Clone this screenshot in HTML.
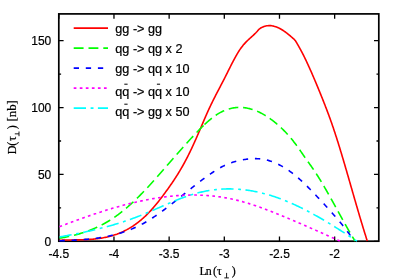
<!DOCTYPE html>
<html><head><meta charset="utf-8"><title>plot</title>
<style>
html,body{margin:0;padding:0;background:#fff;}
body{width:400px;height:279px;overflow:hidden;}
svg{display:block;will-change:transform;}
text{font-family:"Liberation Sans",sans-serif;font-size:12px;fill:#000;stroke:#000;stroke-width:0.2px;}
.s{font-family:"Liberation Serif",serif;font-size:12px;}
</style></head><body>
<svg width="400" height="279" viewBox="0 0 400 279">
<rect x="0" y="0" width="400" height="279" fill="#fff"/>

<rect x="58.8" y="13.9" width="320.0" height="227.29999999999998" fill="none" stroke="#000" stroke-width="1.7"/>
<path d="M58.80,241.2 v-4.8 M58.80,13.9 v4.8 M113.97,241.2 v-4.8 M113.97,13.9 v4.8 M169.14,241.2 v-4.8 M169.14,13.9 v4.8 M224.31,241.2 v-4.8 M224.31,13.9 v4.8 M279.48,241.2 v-4.8 M279.48,13.9 v4.8 M334.65,241.2 v-4.8 M334.65,13.9 v4.8 M58.8,241.30 h4.8 M378.8,241.30 h-4.8 M58.8,174.44 h4.8 M378.8,174.44 h-4.8 M58.8,107.57 h4.8 M378.8,107.57 h-4.8 M58.8,40.71 h4.8 M378.8,40.71 h-4.8 M58.8,207.87 h2.3 M378.8,207.87 h-2.3 M58.8,141.00 h2.3 M378.8,141.00 h-2.3 M58.8,74.14 h2.3 M378.8,74.14 h-2.3" stroke="#000" stroke-width="1.3" fill="none"/>
<clipPath id="c"><rect x="58.8" y="13.9" width="320.0" height="228.2"/></clipPath>
<g clip-path="url(#c)" fill="none" stroke-linejoin="round">
<path d="M59.50,240.25 L60.50,240.21 L61.50,240.18 L62.50,240.14 L63.50,240.11 L64.50,240.09 L65.50,240.06 L66.50,240.04 L67.50,240.02 L68.50,240.01 L69.50,239.99 L70.50,239.98 L71.50,239.96 L72.50,239.95 L73.50,239.93 L74.50,239.92 L75.50,239.90 L76.50,239.89 L77.50,239.87 L78.50,239.85 L79.49,239.83 L80.49,239.80 L81.49,239.77 L82.49,239.74 L83.49,239.71 L84.49,239.67 L85.49,239.63 L86.49,239.58 L87.49,239.53 L88.49,239.47 L89.49,239.41 L90.48,239.34 L91.48,239.27 L92.48,239.19 L93.47,239.10 L94.47,239.00 L95.46,238.90 L96.46,238.79 L97.45,238.66 L98.44,238.54 L99.43,238.40 L100.42,238.25 L101.41,238.10 L102.39,237.93 L103.38,237.76 L104.36,237.57 L105.34,237.37 L106.32,237.17 L107.30,236.95 L108.27,236.72 L109.24,236.48 L110.21,236.23 L111.17,235.97 L112.13,235.69 L113.09,235.40 L114.05,235.10 L115.00,234.79 L115.94,234.47 L116.89,234.14 L117.82,233.79 L118.76,233.43 L119.69,233.06 L120.61,232.67 L121.53,232.28 L122.44,231.87 L123.35,231.45 L124.25,231.01 L125.14,230.57 L126.03,230.11 L126.92,229.65 L127.80,229.17 L128.67,228.68 L129.53,228.17 L130.39,227.66 L131.24,227.14 L132.09,226.60 L132.92,226.06 L133.76,225.50 L134.58,224.94 L135.40,224.36 L136.21,223.77 L137.01,223.18 L137.81,222.57 L138.60,221.96 L139.38,221.34 L140.16,220.71 L140.93,220.07 L141.69,219.42 L142.44,218.77 L143.19,218.10 L143.93,217.43 L144.67,216.75 L145.39,216.07 L146.12,215.37 L146.83,214.67 L147.54,213.97 L148.24,213.25 L148.93,212.53 L149.62,211.81 L150.30,211.08 L150.98,210.34 L151.65,209.60 L152.31,208.85 L152.97,208.10 L153.63,207.34 L154.28,206.58 L154.92,205.82 L155.56,205.05 L156.20,204.28 L156.83,203.50 L157.46,202.72 L158.08,201.94 L158.70,201.16 L159.32,200.37 L159.94,199.58 L160.55,198.79 L161.16,198.00 L161.76,197.20 L162.37,196.41 L162.97,195.61 L163.57,194.81 L164.16,194.00 L164.76,193.20 L165.35,192.39 L165.94,191.59 L166.53,190.78 L167.11,189.97 L167.70,189.16 L168.28,188.34 L168.86,187.53 L169.44,186.71 L170.01,185.89 L170.58,185.07 L171.15,184.25 L171.72,183.43 L172.28,182.60 L172.84,181.77 L173.40,180.94 L173.96,180.11 L174.51,179.28 L175.05,178.44 L175.60,177.60 L176.14,176.76 L176.68,175.92 L177.21,175.07 L177.74,174.22 L178.27,173.37 L178.79,172.52 L179.31,171.66 L179.82,170.81 L180.33,169.95 L180.84,169.09 L181.35,168.22 L181.85,167.36 L182.34,166.49 L182.84,165.62 L183.33,164.75 L183.81,163.87 L184.29,163.00 L184.77,162.12 L185.24,161.24 L185.71,160.35 L186.18,159.47 L186.64,158.58 L187.10,157.69 L187.55,156.80 L188.01,155.91 L188.45,155.02 L188.90,154.12 L189.34,153.22 L189.78,152.33 L190.21,151.43 L190.65,150.52 L191.08,149.62 L191.50,148.72 L191.93,147.81 L192.35,146.91 L192.77,146.00 L193.19,145.09 L193.61,144.18 L194.02,143.27 L194.43,142.36 L194.84,141.45 L195.25,140.53 L195.66,139.62 L196.07,138.71 L196.47,137.79 L196.87,136.88 L197.27,135.96 L197.67,135.04 L198.07,134.13 L198.47,133.21 L198.87,132.29 L199.26,131.37 L199.66,130.45 L200.05,129.54 L200.44,128.62 L200.83,127.70 L201.22,126.77 L201.62,125.85 L202.01,124.93 L202.40,124.01 L202.79,123.09 L203.18,122.17 L203.57,121.25 L203.96,120.33 L204.36,119.41 L204.75,118.50 L205.15,117.58 L205.55,116.66 L205.94,115.74 L206.35,114.83 L206.75,113.91 L207.15,113.00 L207.56,112.08 L207.98,111.17 L208.39,110.26 L208.81,109.35 L209.23,108.45 L209.65,107.54 L210.08,106.64 L210.51,105.73 L210.94,104.83 L211.37,103.93 L211.81,103.03 L212.25,102.13 L212.70,101.24 L213.14,100.34 L213.59,99.45 L214.04,98.56 L214.49,97.66 L214.95,96.77 L215.40,95.88 L215.86,94.99 L216.32,94.11 L216.78,93.22 L217.24,92.33 L217.70,91.44 L218.17,90.56 L218.63,89.67 L219.09,88.79 L219.56,87.90 L220.02,87.01 L220.48,86.13 L220.95,85.24 L221.41,84.36 L221.87,83.47 L222.33,82.58 L222.79,81.69 L223.25,80.80 L223.71,79.92 L224.17,79.03 L224.62,78.13 L225.07,77.24 L225.52,76.35 L225.97,75.46 L226.42,74.56 L226.87,73.67 L227.32,72.77 L227.76,71.88 L228.21,70.98 L228.65,70.09 L229.10,69.19 L229.55,68.30 L230.00,67.41 L230.45,66.51 L230.90,65.62 L231.35,64.73 L231.80,63.84 L232.26,62.95 L232.72,62.06 L233.18,61.17 L233.65,60.29 L234.12,59.41 L234.59,58.53 L235.07,57.65 L235.55,56.77 L236.04,55.90 L236.54,55.03 L237.04,54.17 L237.55,53.31 L238.07,52.45 L238.59,51.60 L239.13,50.75 L239.68,49.92 L240.24,49.09 L240.81,48.27 L241.40,47.46 L242.00,46.66 L242.62,45.88 L243.25,45.10 L243.90,44.34 L244.57,43.60 L245.24,42.86 L245.94,42.14 L246.64,41.43 L247.35,40.73 L248.08,40.04 L248.81,39.36 L249.55,38.68 L250.29,38.01 L251.03,37.34 L251.77,36.67 L252.51,36.00 L253.25,35.32 L253.98,34.64 L254.71,33.95 L255.42,33.25 L256.13,32.55 L256.82,31.82 L257.47,31.07 L258.11,30.29 L258.76,29.53 L259.49,28.85 L260.30,28.28 L261.18,27.79 L262.07,27.34 L262.98,26.93 L263.91,26.56 L264.86,26.25 L265.83,26.00 L266.81,25.81 L267.80,25.68 L268.80,25.62 L269.80,25.61 L270.80,25.66 L271.79,25.77 L272.78,25.94 L273.76,26.15 L274.72,26.41 L275.67,26.72 L276.61,27.06 L277.54,27.44 L278.45,27.85 L279.35,28.29 L280.23,28.76 L281.11,29.25 L281.96,29.76 L282.81,30.29 L283.65,30.84 L284.47,31.40 L285.29,31.98 L286.09,32.58 L286.89,33.18 L287.67,33.80 L288.45,34.43 L289.23,35.06 L289.99,35.71 L290.75,36.36 L291.50,37.01 L292.25,37.68 L293.01,38.33 L293.78,38.96 L294.51,39.65 L295.16,40.41 L295.73,41.23 L296.25,42.08 L296.75,42.95 L297.25,43.81 L297.76,44.68 L298.26,45.54 L298.76,46.41 L299.25,47.28 L299.74,48.15 L300.22,49.03 L300.70,49.91 L301.17,50.79 L301.64,51.67 L302.10,52.56 L302.56,53.45 L303.01,54.34 L303.46,55.23 L303.91,56.13 L304.35,57.02 L304.79,57.92 L305.23,58.82 L305.67,59.72 L306.10,60.62 L306.53,61.53 L306.95,62.43 L307.37,63.34 L307.80,64.24 L308.21,65.15 L308.63,66.06 L309.04,66.97 L309.46,67.88 L309.87,68.80 L310.27,69.71 L310.68,70.62 L311.08,71.54 L311.49,72.45 L311.89,73.37 L312.28,74.29 L312.68,75.20 L313.08,76.12 L313.47,77.04 L313.87,77.96 L314.26,78.88 L314.65,79.80 L315.04,80.72 L315.43,81.64 L315.81,82.57 L316.20,83.49 L316.59,84.41 L316.97,85.33 L317.35,86.26 L317.74,87.18 L318.12,88.11 L318.50,89.03 L318.88,89.95 L319.26,90.88 L319.64,91.81 L320.02,92.73 L320.39,93.66 L320.77,94.58 L321.14,95.51 L321.52,96.44 L321.89,97.37 L322.27,98.29 L322.64,99.22 L323.01,100.15 L323.38,101.08 L323.74,102.01 L324.11,102.94 L324.48,103.87 L324.84,104.80 L325.20,105.73 L325.56,106.67 L325.92,107.60 L326.28,108.53 L326.64,109.47 L326.99,110.40 L327.35,111.34 L327.70,112.27 L328.05,113.21 L328.40,114.15 L328.74,115.09 L329.09,116.02 L329.43,116.96 L329.78,117.90 L330.12,118.84 L330.45,119.79 L330.79,120.73 L331.13,121.67 L331.46,122.61 L331.79,123.56 L332.12,124.50 L332.45,125.44 L332.77,126.39 L333.10,127.34 L333.42,128.28 L333.74,129.23 L334.06,130.18 L334.37,131.13 L334.69,132.08 L335.00,133.03 L335.31,133.98 L335.62,134.93 L335.93,135.88 L336.24,136.83 L336.55,137.78 L336.85,138.73 L337.15,139.69 L337.45,140.64 L337.75,141.59 L338.05,142.55 L338.35,143.50 L338.65,144.46 L338.94,145.41 L339.24,146.37 L339.53,147.32 L339.83,148.28 L340.12,149.24 L340.41,150.19 L340.70,151.15 L340.99,152.11 L341.28,153.06 L341.57,154.02 L341.85,154.98 L342.14,155.94 L342.43,156.90 L342.71,157.86 L342.99,158.81 L343.28,159.77 L343.56,160.73 L343.84,161.69 L344.13,162.65 L344.41,163.61 L344.69,164.57 L344.97,165.53 L345.25,166.49 L345.53,167.45 L345.81,168.41 L346.09,169.37 L346.37,170.33 L346.65,171.29 L346.92,172.25 L347.20,173.21 L347.48,174.17 L347.76,175.13 L348.04,176.09 L348.31,177.05 L348.59,178.02 L348.87,178.98 L349.14,179.94 L349.42,180.90 L349.70,181.86 L349.97,182.82 L350.25,183.78 L350.52,184.74 L350.80,185.70 L351.08,186.66 L351.35,187.63 L351.63,188.59 L351.91,189.55 L352.18,190.51 L352.46,191.47 L352.74,192.43 L353.01,193.39 L353.29,194.35 L353.57,195.31 L353.84,196.27 L354.12,197.24 L354.40,198.20 L354.68,199.16 L354.95,200.12 L355.23,201.08 L355.51,202.04 L355.79,203.00 L356.07,203.96 L356.35,204.92 L356.63,205.88 L356.90,206.84 L357.19,207.80 L357.47,208.76 L357.75,209.72 L358.03,210.68 L358.31,211.64 L358.59,212.60 L358.87,213.56 L359.16,214.52 L359.44,215.48 L359.72,216.43 L360.01,217.39 L360.29,218.35 L360.58,219.31 L360.87,220.27 L361.15,221.23 L361.44,222.18 L361.73,223.14 L362.02,224.10 L362.31,225.06 L362.60,226.01 L362.89,226.97 L363.18,227.93 L363.47,228.88 L363.77,229.84 L364.06,230.79 L364.35,231.75 L364.65,232.70 L364.95,233.66 L365.25,234.61 L365.55,235.57 L365.85,236.52 L366.15,237.47 L366.45,238.43 L366.76,239.38 L367.06,240.33 L367.30,241.10" stroke="#ff0000" stroke-width="1.6"/>
<path d="M59.50,238.20 L60.49,238.04 L61.47,237.87 L62.46,237.70 L63.44,237.52 L64.42,237.34 L65.41,237.15 L66.39,236.96 L67.37,236.76 L68.35,236.55 L69.32,236.34 L70.30,236.13 L71.28,235.91 L72.25,235.68 L73.22,235.44 L74.19,235.20 L75.16,234.96 L76.13,234.70 L77.09,234.44 L78.06,234.17 L79.02,233.90 L79.98,233.62 L80.94,233.33 L81.89,233.04 L82.85,232.73 L83.80,232.42 L84.75,232.11 L85.69,231.78 L86.63,231.45 L87.58,231.11 L88.51,230.77 L89.45,230.41 L90.38,230.05 L91.31,229.68 L92.24,229.30 L93.16,228.92 L94.08,228.53 L95.00,228.13 L95.91,227.72 L96.82,227.31 L97.73,226.88 L98.63,226.45 L99.53,226.01 L100.42,225.57 L101.31,225.12 L102.20,224.65 L103.08,224.19 L103.96,223.71 L104.84,223.23 L105.71,222.74 L106.58,222.24 L107.44,221.73 L108.30,221.22 L109.16,220.70 L110.01,220.18 L110.85,219.64 L111.69,219.10 L112.53,218.56 L113.36,218.00 L114.19,217.44 L115.01,216.87 L115.83,216.30 L116.65,215.72 L117.46,215.13 L118.26,214.54 L119.06,213.94 L119.86,213.34 L120.65,212.73 L121.44,212.11 L122.22,211.49 L123.00,210.86 L123.78,210.23 L124.55,209.60 L125.32,208.95 L126.08,208.31 L126.84,207.66 L127.60,207.01 L128.35,206.35 L129.10,205.69 L129.85,205.02 L130.59,204.35 L131.33,203.68 L132.07,203.00 L132.80,202.32 L133.53,201.64 L134.26,200.95 L134.98,200.26 L135.70,199.57 L136.42,198.88 L137.14,198.18 L137.85,197.48 L138.57,196.78 L139.27,196.07 L139.98,195.36 L140.68,194.65 L141.39,193.94 L142.08,193.22 L142.78,192.51 L143.48,191.79 L144.17,191.07 L144.86,190.34 L145.55,189.62 L146.24,188.89 L146.92,188.16 L147.60,187.43 L148.29,186.70 L148.96,185.97 L149.64,185.23 L150.32,184.50 L150.99,183.76 L151.67,183.02 L152.34,182.28 L153.01,181.54 L153.68,180.79 L154.35,180.05 L155.01,179.30 L155.68,178.56 L156.34,177.81 L157.01,177.06 L157.67,176.31 L158.33,175.56 L158.99,174.81 L159.65,174.06 L160.31,173.31 L160.97,172.55 L161.62,171.80 L162.28,171.05 L162.93,170.29 L163.59,169.53 L164.24,168.78 L164.90,168.02 L165.55,167.26 L166.20,166.51 L166.86,165.75 L167.51,164.99 L168.16,164.23 L168.82,163.48 L169.47,162.72 L170.12,161.96 L170.78,161.21 L171.43,160.45 L172.08,159.69 L172.74,158.94 L173.40,158.18 L174.05,157.43 L174.71,156.67 L175.37,155.92 L176.03,155.17 L176.68,154.42 L177.34,153.67 L178.00,152.91 L178.67,152.16 L179.33,151.42 L179.99,150.67 L180.65,149.92 L181.32,149.17 L181.98,148.42 L182.65,147.68 L183.32,146.93 L183.99,146.19 L184.66,145.45 L185.33,144.71 L186.00,143.96 L186.67,143.22 L187.34,142.48 L188.02,141.75 L188.69,141.01 L189.37,140.27 L190.05,139.54 L190.73,138.80 L191.41,138.07 L192.09,137.34 L192.77,136.61 L193.46,135.88 L194.14,135.15 L194.83,134.42 L195.52,133.70 L196.21,132.97 L196.90,132.25 L197.59,131.53 L198.29,130.81 L198.98,130.09 L199.68,129.38 L200.38,128.67 L201.09,127.96 L201.79,127.25 L202.50,126.55 L203.22,125.85 L203.94,125.15 L204.54,124.57" stroke="#00ff00" stroke-width="1.6" stroke-dasharray="9.87 4.93"/>
<path d="M204.54,124.57 L204.66,124.46 L205.39,123.77 L206.12,123.09 L206.86,122.42 L207.60,121.75 L208.35,121.09 L209.10,120.43 L209.87,119.78 L210.64,119.14 L211.41,118.51 L212.20,117.90 L212.99,117.29 L213.80,116.69 L214.61,116.11 L215.43,115.54 L216.26,114.98 L217.10,114.44 L217.95,113.91 L218.80,113.39 L219.67,112.90 L220.55,112.42 L221.44,111.95 L222.33,111.51 L223.24,111.09 L224.15,110.68 L225.07,110.29 L226.01,109.93 L226.95,109.59 L227.89,109.27 L228.85,108.97 L229.81,108.70 L230.78,108.45 L231.75,108.23 L232.73,108.03 L233.72,107.86 L234.71,107.72 L235.70,107.60 L236.70,107.50 L237.70,107.44 L238.69,107.40 L239.69,107.38 L240.69,107.40 L241.69,107.44 L242.69,107.50 L243.69,107.59 L244.68,107.71 L245.67,107.85 L246.66,108.01 L247.64,108.20 L248.62,108.41 L249.59,108.64 L250.56,108.90 L251.52,109.17 L252.47,109.47 L253.42,109.78 L254.36,110.12 L255.30,110.47 L256.23,110.84 L257.15,111.23 L258.07,111.63 L258.97,112.05 L259.87,112.49 L260.77,112.94 L261.65,113.40 L262.53,113.88 L263.40,114.37 L264.27,114.87 L265.13,115.38 L265.98,115.91 L266.82,116.45 L267.66,116.99 L268.49,117.55 L269.31,118.12 L270.13,118.70 L270.94,119.28 L271.74,119.88 L272.54,120.48 L273.33,121.09 L274.12,121.71 L274.90,122.33 L275.67,122.97 L276.44,123.61 L277.20,124.26 L277.96,124.91 L278.71,125.57 L279.45,126.24 L280.19,126.91 L280.92,127.59 L281.65,128.28 L282.37,128.98 L283.08,129.68 L283.79,130.38 L284.49,131.10 L285.19,131.81 L285.88,132.54 L286.56,133.27 L287.24,134.00 L287.91,134.74 L288.58,135.49 L289.24,136.24 L289.89,137.00 L290.54,137.76 L291.18,138.52 L291.82,139.30 L292.45,140.07 L293.08,140.85 L293.70,141.64 L294.31,142.42 L294.92,143.22 L295.52,144.01 L296.12,144.82 L296.72,145.62 L297.30,146.43 L297.89,147.24 L298.47,148.06 L299.04,148.88 L299.61,149.70 L300.18,150.52 L300.75,151.34 L301.31,152.17 L301.88,152.99 L302.44,153.82 L303.01,154.64 L303.57,155.47 L304.14,156.29 L304.71,157.11 L305.28,157.93 L305.86,158.75 L306.44,159.57 L307.02,160.38 L307.60,161.19 L308.18,162.01 L308.76,162.82 L309.35,163.63 L309.93,164.45 L310.51,165.26 L311.09,166.08 L311.66,166.89 L312.24,167.71 L312.81,168.53 L313.37,169.36 L313.93,170.18 L314.49,171.01 L315.05,171.85 L315.60,172.68 L316.15,173.52 L316.69,174.36 L317.23,175.20 L317.76,176.04 L318.30,176.89 L318.83,177.74 L319.35,178.59 L319.88,179.44 L320.40,180.29 L320.92,181.15 L321.44,182.00 L321.95,182.86 L322.46,183.72 L322.97,184.58 L323.48,185.44 L323.99,186.30 L324.49,187.17 L324.99,188.03 L325.50,188.90 L325.99,189.76 L326.49,190.63 L326.99,191.50 L327.48,192.37 L327.98,193.24 L328.47,194.11 L328.96,194.98 L329.45,195.85 L329.94,196.72 L330.43,197.60 L330.91,198.47 L331.40,199.34 L331.89,200.22 L332.37,201.09 L332.86,201.97 L333.34,202.84 L333.82,203.72 L334.31,204.59 L334.79,205.47 L335.27,206.34 L335.76,207.22 L336.24,208.10 L336.72,208.97 L337.20,209.85 L337.68,210.72 L338.17,211.60 L338.65,212.48 L339.13,213.35 L339.61,214.23 L340.10,215.10 L340.58,215.98 L341.06,216.86 L341.55,217.73 L342.03,218.60 L342.52,219.48 L343.00,220.35 L343.49,221.23 L343.98,222.10 L344.47,222.97 L344.96,223.84 L345.45,224.72 L345.94,225.59 L346.43,226.46 L346.92,227.33 L347.42,228.19 L347.92,229.06 L348.41,229.93 L348.91,230.80 L349.42,231.66 L349.92,232.53 L350.42,233.39 L350.93,234.25 L351.44,235.11 L351.95,235.97 L352.46,236.83 L352.98,237.69 L353.50,238.54 L354.02,239.39 L354.54,240.25 L355.00,241.00" stroke="#00ff00" stroke-width="1.6" stroke-dasharray="9.69 4.84"/>
<path d="M59.50,240.75 L60.50,240.72 L61.50,240.68 L62.50,240.65 L63.50,240.61 L64.50,240.58 L65.50,240.54 L66.50,240.50 L67.49,240.46 L68.49,240.42 L69.49,240.38 L70.49,240.34 L71.49,240.30 L72.49,240.25 L73.49,240.20 L74.49,240.15 L75.49,240.10 L76.48,240.04 L77.48,239.99 L78.48,239.93 L79.48,239.86 L80.48,239.80 L81.47,239.73 L82.47,239.66 L83.47,239.58 L84.47,239.50 L85.46,239.42 L86.46,239.33 L87.46,239.24 L88.45,239.15 L89.45,239.05 L90.44,238.95 L91.43,238.84 L92.43,238.73 L93.42,238.61 L94.41,238.49 L95.41,238.36 L96.40,238.23 L97.39,238.10 L98.38,237.95 L99.37,237.81 L100.36,237.65 L101.34,237.50 L102.33,237.33 L103.31,237.16 L104.30,236.98 L105.28,236.80 L106.26,236.61 L107.24,236.42 L108.22,236.22 L109.20,236.01 L110.18,235.79 L111.15,235.57 L112.13,235.34 L113.10,235.11 L114.07,234.87 L115.04,234.62 L116.01,234.36 L116.97,234.10 L117.93,233.83 L118.89,233.55 L119.85,233.26 L120.81,232.97 L121.76,232.67 L122.71,232.36 L123.66,232.05 L124.61,231.73 L125.55,231.40 L126.49,231.06 L127.43,230.71 L128.37,230.36 L129.30,230.00 L130.23,229.63 L131.16,229.25 L132.08,228.87 L133.00,228.48 L133.92,228.08 L134.83,227.67 L135.74,227.26 L136.65,226.84 L137.55,226.41 L138.45,225.97 L139.35,225.53 L140.24,225.08 L141.13,224.62 L142.01,224.15 L142.89,223.68 L143.77,223.20 L144.64,222.71 L145.51,222.22 L146.38,221.71 L147.24,221.21 L148.10,220.69 L148.95,220.17 L149.80,219.64 L150.65,219.11 L151.49,218.57 L152.33,218.03 L153.16,217.48 L154.00,216.93 L154.83,216.37 L155.66,215.81 L156.48,215.24 L157.30,214.67 L158.12,214.10 L158.94,213.52 L159.75,212.94 L160.56,212.36 L161.37,211.77 L162.18,211.18 L162.99,210.59 L163.79,209.99 L164.59,209.39 L165.39,208.79 L166.19,208.19 L166.98,207.58 L167.78,206.98 L168.57,206.37 L169.36,205.75 L170.15,205.14 L170.94,204.53 L171.73,203.91 L172.51,203.29 L173.30,202.67 L174.08,202.05 L174.86,201.43 L175.65,200.81 L176.43,200.18 L177.21,199.56 L177.99,198.93 L178.77,198.31 L179.55,197.68 L180.33,197.06 L181.11,196.43 L181.89,195.80 L182.67,195.18 L183.45,194.55 L184.22,193.92 L185.00,193.29 L185.78,192.67 L186.56,192.04 L187.34,191.41 L188.12,190.79 L188.90,190.16 L189.68,189.54 L190.46,188.91 L191.25,188.29 L192.03,187.67 L192.81,187.05 L193.60,186.43 L194.39,185.81 L195.17,185.20 L195.96,184.58 L196.75,183.97 L197.54,183.35 L198.33,182.74 L199.13,182.14 L199.92,181.53 L200.72,180.93 L201.52,180.33 L202.32,179.73 L203.12,179.13 L203.93,178.54 L204.73,177.95 L205.54,177.36 L206.35,176.77 L207.17,176.19 L207.98,175.61 L208.80,175.04 L209.62,174.47 L210.45,173.90 L211.28,173.34 L212.11,172.78 L212.94,172.23 L213.77,171.68 L214.61,171.14 L215.46,170.60 L216.30,170.07 L217.16,169.54 L218.01,169.03 L218.87,168.52 L219.74,168.02 L220.61,167.53 L221.49,167.05 L222.37,166.58 L223.26,166.13 L224.16,165.68 L225.06,165.25 L225.97,164.84 L226.89,164.44 L227.81,164.05 L228.74,163.68 L229.67,163.33 L230.61,162.99 L231.56,162.66 L232.51,162.35 L233.46,162.05 L234.42,161.76 L235.38,161.49 L236.35,161.23 L237.32,160.98 L238.29,160.74 L239.26,160.52 L240.24,160.31 L241.22,160.11 L242.20,159.92 L243.19,159.74 L244.17,159.58 L245.16,159.43 L246.15,159.29 L247.15,159.16 L248.14,159.05 L249.13,158.95 L250.13,158.86 L251.13,158.79 L252.13,158.73 L253.12,158.69 L254.12,158.66 L255.12,158.65 L256.12,158.66 L257.12,158.69 L258.12,158.73 L259.12,158.80 L260.12,158.89 L261.11,159.00 L262.10,159.13 L263.09,159.28 L264.07,159.46 L265.06,159.65 L266.03,159.86 L267.00,160.10 L267.97,160.35 L268.93,160.62 L269.89,160.91 L270.84,161.22 L271.79,161.55 L272.73,161.89 L273.66,162.25 L274.59,162.62 L275.51,163.01 L276.42,163.42 L277.33,163.83 L278.23,164.27 L279.13,164.71 L280.02,165.17 L280.90,165.64 L281.78,166.13 L282.64,166.62 L283.51,167.13 L284.36,167.64 L285.21,168.17 L286.06,168.71 L286.89,169.26 L287.72,169.81 L288.55,170.38 L289.36,170.95 L290.18,171.54 L290.98,172.13 L291.78,172.73 L292.58,173.34 L293.37,173.95 L294.15,174.58 L294.93,175.20 L295.70,175.84 L296.46,176.48 L297.23,177.13 L297.98,177.78 L298.74,178.44 L299.49,179.10 L300.23,179.77 L300.97,180.44 L301.71,181.12 L302.44,181.80 L303.17,182.48 L303.90,183.17 L304.62,183.86 L305.34,184.55 L306.06,185.25 L306.77,185.95 L307.48,186.65 L308.19,187.36 L308.90,188.07 L309.60,188.78 L310.31,189.49 L311.00,190.20 L311.70,190.92 L312.40,191.64 L313.09,192.36 L313.78,193.08 L314.48,193.80 L315.16,194.53 L315.85,195.25 L316.54,195.98 L317.22,196.71 L317.91,197.44 L318.59,198.17 L319.28,198.90 L319.96,199.63 L320.64,200.36 L321.32,201.09 L322.00,201.83 L322.68,202.56 L323.36,203.29 L324.04,204.03 L324.71,204.76 L325.39,205.50 L326.07,206.24 L326.74,206.97 L327.42,207.71 L328.09,208.45 L328.77,209.19 L329.44,209.93 L330.11,210.67 L330.78,211.42 L331.44,212.16 L332.11,212.91 L332.77,213.66 L333.43,214.41 L334.09,215.16 L334.75,215.91 L335.41,216.67 L336.06,217.42 L336.71,218.18 L337.36,218.94 L338.00,219.71 L338.65,220.47 L339.29,221.24 L339.93,222.01 L340.56,222.78 L341.20,223.55 L341.83,224.33 L342.46,225.11 L343.08,225.89 L343.70,226.67 L344.32,227.46 L344.94,228.25 L345.55,229.04 L346.16,229.83 L346.77,230.63 L347.37,231.42 L347.97,232.22 L348.56,233.03 L349.16,233.83 L349.75,234.64 L350.34,235.45 L350.92,236.26 L351.50,237.07 L352.07,237.89 L352.64,238.71 L353.21,239.54 L353.78,240.36 L354.00,240.67" stroke="#0000ff" stroke-width="1.6" stroke-dasharray="5.3 6.8"/>
<path d="M59.50,226.66 L60.43,226.30 L61.37,225.95 L62.30,225.59 L63.24,225.24 L64.17,224.88 L65.11,224.53 L66.05,224.18 L66.98,223.83 L67.92,223.48 L68.86,223.13 L69.79,222.78 L70.73,222.43 L71.67,222.08 L72.61,221.74 L73.54,221.39 L74.48,221.05 L75.42,220.70 L76.36,220.36 L77.30,220.02 L78.24,219.68 L79.18,219.34 L80.12,219.00 L81.07,218.66 L82.01,218.33 L82.95,217.99 L83.89,217.66 L84.84,217.33 L85.78,217.00 L86.72,216.67 L87.67,216.34 L88.61,216.01 L89.56,215.69 L90.50,215.36 L91.45,215.04 L92.40,214.72 L93.35,214.40 L94.29,214.08 L95.24,213.76 L96.19,213.45 L97.14,213.13 L98.09,212.82 L99.04,212.51 L99.99,212.20 L100.94,211.89 L101.90,211.59 L102.85,211.28 L103.80,210.98 L104.76,210.68 L105.71,210.38 L106.66,210.09 L107.62,209.79 L108.58,209.50 L109.53,209.21 L110.49,208.92 L111.45,208.63 L112.41,208.35 L113.37,208.06 L114.33,207.78 L115.29,207.50 L116.25,207.23 L117.21,206.95 L118.17,206.68 L119.13,206.41 L120.10,206.14 L121.06,205.88 L122.03,205.61 L122.99,205.35 L123.96,205.10 L124.92,204.84 L125.89,204.59 L126.86,204.34 L127.83,204.09 L128.80,203.84 L129.77,203.60 L130.74,203.36 L131.71,203.12 L132.68,202.88 L133.65,202.65 L134.63,202.42 L135.60,202.19 L136.58,201.97 L137.55,201.75 L138.53,201.53 L139.50,201.31 L140.48,201.10 L141.46,200.89 L142.44,200.69 L143.42,200.48 L144.40,200.28 L145.38,200.09 L146.36,199.89 L147.34,199.70 L148.32,199.51 L149.30,199.33 L150.29,199.15 L151.27,198.97 L152.26,198.80 L153.24,198.63 L154.23,198.46 L155.21,198.30 L156.20,198.14 L157.19,197.98 L158.18,197.83 L159.17,197.68 L160.16,197.53 L161.15,197.39 L162.14,197.25 L163.13,197.12 L164.12,196.99 L165.11,196.86 L166.10,196.74 L167.10,196.62 L168.09,196.51 L169.08,196.39 L170.08,196.29 L171.07,196.19 L172.07,196.09 L173.06,195.99 L174.06,195.90 L175.05,195.82 L176.05,195.74 L177.05,195.66 L178.05,195.59 L179.04,195.52 L180.04,195.46 L181.04,195.40 L182.04,195.34 L183.04,195.29 L184.04,195.25 L185.04,195.21 L186.03,195.17 L187.03,195.14 L188.03,195.11 L189.03,195.09 L190.03,195.07 L191.03,195.06 L192.03,195.05 L193.03,195.05 L194.03,195.05 L195.03,195.06 L196.03,195.07 L197.03,195.09 L198.03,195.11 L199.03,195.13 L200.03,195.17 L201.03,195.20 L202.03,195.25 L203.03,195.29 L204.03,195.35 L205.03,195.40 L206.02,195.47 L207.02,195.54 L208.02,195.61 L209.02,195.69 L210.01,195.77 L211.01,195.86 L212.00,195.96 L213.00,196.06 L213.99,196.16 L214.99,196.28 L215.98,196.39 L216.97,196.51 L217.96,196.64 L218.96,196.78 L219.95,196.91 L220.94,197.06 L221.92,197.21 L222.91,197.36 L223.90,197.52 L224.88,197.69 L225.87,197.86 L226.85,198.04 L227.84,198.22 L228.82,198.41 L229.80,198.60 L230.78,198.80 L231.76,199.01 L232.74,199.22 L233.71,199.44 L234.69,199.66 L235.66,199.89 L236.63,200.12 L237.61,200.36 L238.57,200.60 L239.54,200.85 L240.51,201.11 L241.48,201.37 L242.44,201.63 L243.40,201.90 L244.36,202.18 L245.32,202.46 L246.28,202.74 L247.24,203.03 L248.20,203.32 L249.15,203.62 L250.11,203.92 L251.06,204.22 L252.01,204.53 L252.96,204.84 L253.91,205.16 L254.86,205.48 L255.80,205.80 L256.75,206.13 L257.69,206.46 L258.64,206.79 L259.58,207.12 L260.52,207.46 L261.46,207.80 L262.40,208.15 L263.34,208.49 L264.27,208.84 L265.21,209.19 L266.15,209.54 L267.08,209.90 L268.01,210.26 L268.95,210.62 L269.88,210.98 L270.81,211.34 L271.74,211.70 L272.67,212.07 L273.60,212.44 L274.53,212.81 L275.46,213.18 L276.39,213.55 L277.32,213.92 L278.25,214.30 L279.17,214.67 L280.10,215.05 L281.02,215.43 L281.95,215.81 L282.87,216.19 L283.80,216.57 L284.72,216.95 L285.65,217.33 L286.57,217.72 L287.49,218.10 L288.42,218.49 L289.34,218.88 L290.26,219.26 L291.18,219.65 L292.10,220.04 L293.02,220.43 L293.94,220.82 L294.86,221.22 L295.78,221.61 L296.70,222.00 L297.62,222.40 L298.54,222.79 L299.46,223.19 L300.38,223.58 L301.29,223.98 L302.21,224.38 L303.13,224.77 L304.05,225.17 L304.96,225.57 L305.88,225.97 L306.80,226.37 L307.71,226.77 L308.63,227.17 L309.55,227.57 L310.46,227.97 L311.38,228.37 L312.29,228.77 L313.21,229.18 L314.13,229.58 L315.04,229.98 L315.96,230.38 L316.87,230.79 L317.79,231.19 L318.70,231.60 L319.61,232.00 L320.53,232.41 L321.44,232.81 L322.36,233.22 L323.27,233.62 L324.19,234.03 L325.10,234.43 L326.01,234.84 L326.93,235.25 L327.84,235.65 L328.75,236.06 L329.67,236.47 L330.58,236.88 L331.49,237.29 L332.41,237.69 L333.32,238.10 L334.23,238.51 L335.14,238.92 L336.06,239.33 L336.97,239.74 L337.88,240.15 L338.79,240.55 L339.71,240.96 L340.00,241.10" stroke="#ff00ff" stroke-width="1.6" stroke-dasharray="2.7 3.35"/>
<path d="M59.50,236.95 L60.48,236.78 L61.47,236.60 L62.45,236.42 L63.44,236.25 L64.42,236.07 L65.40,235.89 L66.39,235.70 L67.37,235.52 L68.35,235.34 L69.34,235.15 L70.32,234.97 L71.30,234.78 L72.28,234.59 L73.27,234.40 L74.25,234.21 L75.23,234.01 L76.21,233.82 L77.19,233.62 L78.17,233.42 L79.15,233.22 L80.13,233.02 L81.11,232.82 L82.09,232.61 L83.06,232.41 L84.04,232.20 L85.02,231.99 L86.00,231.78 L86.97,231.56 L87.95,231.34 L88.93,231.13 L89.90,230.91 L90.88,230.68 L91.85,230.46 L92.83,230.23 L93.80,230.00 L94.77,229.77 L95.74,229.54 L96.72,229.30 L97.69,229.06 L98.66,228.82 L99.63,228.58 L100.60,228.34 L101.57,228.09 L102.53,227.84 L103.50,227.59 L104.47,227.33 L105.43,227.07 L106.40,226.81 L107.37,226.55 L108.33,226.28 L109.29,226.02 L110.26,225.74 L111.22,225.47 L112.18,225.20 L113.14,224.92 L114.10,224.63 L115.06,224.35 L116.01,224.06 L116.97,223.77 L117.93,223.48 L118.88,223.18 L119.84,222.88 L120.79,222.58 L121.74,222.28 L122.69,221.97 L123.64,221.66 L124.59,221.34 L125.54,221.02 L126.49,220.70 L127.43,220.38 L128.38,220.05 L129.32,219.72 L130.27,219.39 L131.21,219.05 L132.15,218.72 L133.09,218.37 L134.03,218.03 L134.96,217.68 L135.90,217.33 L136.83,216.97 L137.77,216.61 L138.70,216.25 L139.63,215.88 L140.56,215.51 L141.49,215.14 L142.42,214.77 L143.34,214.39 L144.27,214.01 L145.19,213.62 L146.11,213.24 L147.03,212.85 L147.95,212.46 L148.87,212.07 L149.79,211.67 L150.71,211.28 L151.63,210.88 L152.55,210.48 L153.46,210.08 L154.38,209.68 L155.30,209.28 L156.21,208.88 L157.13,208.48 L158.04,208.07 L158.96,207.67 L159.87,207.27 L160.79,206.86 L161.70,206.46 L162.62,206.06 L163.53,205.66 L164.45,205.26 L165.37,204.86 L166.28,204.46 L167.20,204.06 L168.12,203.66 L169.04,203.27 L169.96,202.88 L170.88,202.49 L171.80,202.10 L172.72,201.71 L173.64,201.33 L174.57,200.94 L175.49,200.56 L176.42,200.19 L177.35,199.82 L178.28,199.45 L179.21,199.08 L180.14,198.72 L181.07,198.36 L182.01,198.00 L182.95,197.65 L183.88,197.31 L184.82,196.97 L185.77,196.63 L186.71,196.30 L187.65,195.97 L188.60,195.65 L189.55,195.34 L190.50,195.03 L191.46,194.73 L192.41,194.43 L193.37,194.14 L194.33,193.86 L195.29,193.59 L196.25,193.32 L197.22,193.06 L198.19,192.81 L199.16,192.56 L200.13,192.33 L201.10,192.10 L202.08,191.88 L203.05,191.66 L204.03,191.46 L205.01,191.26 L205.99,191.07 L206.98,190.89 L207.96,190.71 L208.95,190.55 L209.94,190.39 L210.92,190.24 L211.91,190.09 L212.90,189.96 L213.90,189.83 L214.89,189.71 L215.88,189.60 L216.88,189.50 L217.87,189.41 L218.87,189.32 L219.87,189.24 L220.86,189.17 L221.86,189.11 L222.86,189.06 L223.86,189.01 L224.86,188.97 L225.86,188.94 L226.86,188.92 L227.86,188.90 L228.86,188.90 L229.86,188.90 L230.86,188.91 L231.86,188.93 L232.86,188.95 L233.86,188.99 L234.86,189.03 L235.86,189.08 L236.85,189.13 L237.85,189.20 L238.85,189.27 L239.85,189.35 L240.84,189.43 L241.84,189.53 L242.83,189.63 L243.83,189.74 L244.82,189.86 L245.81,189.98 L246.80,190.11 L247.79,190.25 L248.78,190.40 L249.77,190.55 L250.76,190.71 L251.74,190.87 L252.73,191.05 L253.71,191.23 L254.69,191.42 L255.68,191.61 L256.65,191.81 L257.63,192.02 L258.61,192.24 L259.59,192.46 L260.56,192.68 L261.53,192.92 L262.50,193.16 L263.47,193.41 L264.44,193.66 L265.40,193.92 L266.37,194.18 L267.33,194.45 L268.29,194.73 L269.25,195.01 L270.21,195.30 L271.16,195.60 L272.12,195.90 L273.07,196.21 L274.02,196.52 L274.97,196.84 L275.91,197.16 L276.86,197.49 L277.80,197.82 L278.74,198.16 L279.68,198.51 L280.62,198.86 L281.55,199.21 L282.49,199.57 L283.42,199.93 L284.35,200.30 L285.27,200.67 L286.20,201.05 L287.12,201.43 L288.05,201.82 L288.97,202.21 L289.88,202.61 L290.80,203.01 L291.72,203.41 L292.63,203.82 L293.54,204.23 L294.45,204.64 L295.36,205.06 L296.27,205.48 L297.17,205.91 L298.07,206.34 L298.98,206.77 L299.88,207.21 L300.77,207.65 L301.67,208.09 L302.56,208.54 L303.46,208.99 L304.35,209.44 L305.24,209.90 L306.13,210.35 L307.02,210.82 L307.90,211.28 L308.79,211.75 L309.67,212.22 L310.55,212.69 L311.43,213.16 L312.31,213.64 L313.19,214.12 L314.06,214.60 L314.94,215.09 L315.81,215.58 L316.68,216.07 L317.55,216.56 L318.42,217.05 L319.29,217.55 L320.16,218.05 L321.02,218.55 L321.89,219.05 L322.75,219.55 L323.61,220.06 L324.47,220.57 L325.33,221.08 L326.19,221.59 L327.05,222.11 L327.91,222.62 L328.76,223.14 L329.62,223.66 L330.47,224.18 L331.32,224.70 L332.18,225.22 L333.03,225.75 L333.88,226.28 L334.73,226.80 L335.58,227.33 L336.42,227.86 L337.27,228.40 L338.12,228.93 L338.96,229.46 L339.80,230.00 L340.65,230.54 L341.49,231.08 L342.33,231.61 L343.17,232.15 L344.02,232.70 L344.86,233.24 L345.70,233.78 L346.53,234.33 L347.37,234.87 L348.21,235.42 L349.05,235.96 L349.88,236.51 L350.72,237.06 L351.56,237.61 L352.39,238.16 L353.22,238.72 L354.06,239.27 L354.90,239.81 L355.75,240.33 L356.60,240.86 L357.00,241.10" stroke="#00ffff" stroke-width="1.6" stroke-dasharray="12.3 4.6 2.9 4.4"/>
</g>
<text x="58.80" y="258" text-anchor="middle">-4.5</text>
<text x="113.97" y="258" text-anchor="middle">-4</text>
<text x="169.14" y="258" text-anchor="middle">-3.5</text>
<text x="224.31" y="258" text-anchor="middle">-3</text>
<text x="279.48" y="258" text-anchor="middle">-2.5</text>
<text x="334.65" y="258" text-anchor="middle">-2</text>
<text x="51.3" y="245.80" text-anchor="end">0</text>
<text x="51.3" y="178.94" text-anchor="end">50</text>
<text x="51.3" y="112.07" text-anchor="end">100</text>
<text x="51.3" y="45.21" text-anchor="end">150</text>
<path d="M73.7,28.1 H108" stroke="#ff0000" stroke-width="1.6" fill="none"/>
<text transform="translate(115.3,32.75) scale(1.055,1)">gg -&gt; gg</text>
<path d="M73.7,48.1 H108" stroke="#00ff00" stroke-width="1.6" stroke-dasharray="9.87 4.93" fill="none"/>
<text transform="translate(115.3,52.75) scale(1.055,1)">qg -&gt; qg x 2</text>
<path d="M73.7,68.1 H108" stroke="#0000ff" stroke-width="1.6" stroke-dasharray="5.3 6.8" fill="none"/>
<text transform="translate(115.3,72.75) scale(1.055,1)">gg -&gt; qq x 10</text>
<path d="M73.7,88.1 H108" stroke="#ff00ff" stroke-width="1.6" stroke-dasharray="2.7 3.35" fill="none"/>
<text transform="translate(115.3,95.7) scale(1.055,1)">qq -&gt; qq x 10</text>
<path d="M73.7,108.1 H108" stroke="#00ffff" stroke-width="1.6" stroke-dasharray="12.3 4.6 2.9 4.4" fill="none"/>
<text transform="translate(115.3,115.7) scale(1.055,1)">qq -&gt; gg x 50</text>
<path d="M124.3,84.2 h3.3 M156.9,84.2 h3.2 M124.3,104.2 h3.3" stroke="#000" stroke-width="1" fill="none"/>
<text class="s" x="199.6" y="275.2">L<tspan dx="-1.1">n</tspan><tspan dx="1.1">(</tspan></text>
<text class="s" x="217" y="275.2">τ</text>
<path d="M224.3,277.9 h4.6 M226.6,277.9 v-5" stroke="#000" stroke-width="0.9" fill="none"/>
<text class="s" x="231.8" y="275.2">)</text>
<g transform="translate(15.7,154.3) rotate(-90)">
<text class="s" x="0" y="0">D(</text>
<text class="s" x="13.2" y="0">τ</text>
<path d="M18.1,3.3 h4.7 M20.45,3.3 v-4.2" stroke="#000" stroke-width="0.9" fill="none"/>
<text class="s" x="25.1" y="0">)</text>
<text class="s" transform="translate(32.9,0) scale(1.065,1)">[nb]</text>
</g>
</svg></body></html>
